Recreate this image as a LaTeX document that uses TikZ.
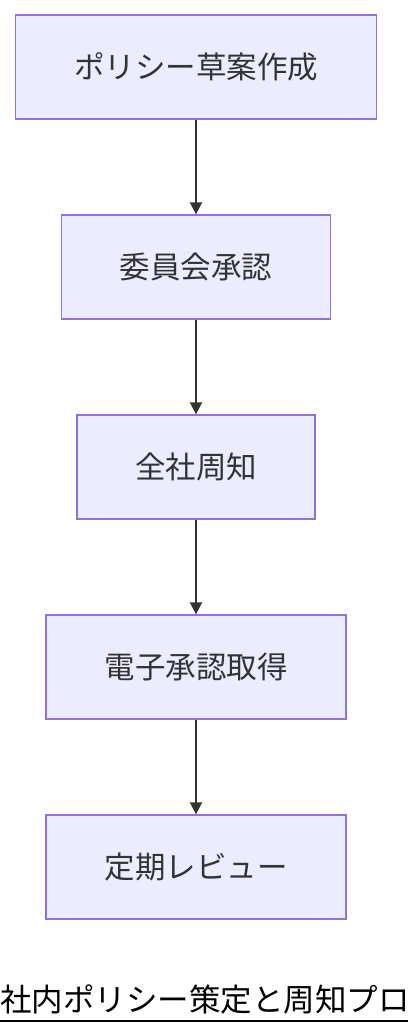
\documentclass[tikz,border=0pt]{standalone}
\usepackage{fontspec}
\setmainfont{Noto Sans CJK JP}
\usetikzlibrary{arrows.meta}
\definecolor{boxfill}{HTML}{ECECFF}
\definecolor{boxdraw}{HTML}{9370DB}
\definecolor{ink}{HTML}{333333}
\tikzset{
  stepbox/.style={draw=boxdraw, fill=boxfill, line width=1.3pt, text=ink, font=\fontsize{30.5}{34}\selectfont, inner sep=0pt, minimum height=104pt, anchor=center},
  flow/.style={draw=ink, line width=1.8pt, -{Triangle[length=12pt,width=12pt]}}
}
\begin{document}
\begin{tikzpicture}[x=1pt,y=-1pt]
\useasboundingbox (0,0) rectangle (408,1036);
\node[stepbox, minimum width=361pt] (a) at (196,67) {ポリシー草案作成};
\node[stepbox, minimum width=269pt] (b) at (196,267) {委員会承認};
\node[stepbox, minimum width=238pt] (c) at (196,467) {全社周知};
\node[stepbox, minimum width=300pt] (d) at (196,667) {電子承認取得};
\node[stepbox, minimum width=300pt] (e) at (196,867) {定期レビュー};
\draw[flow] (a) -- (b);
\draw[flow] (b) -- (c);
\draw[flow] (c) -- (d);
\draw[flow] (d) -- (e);
\node[anchor=base west, inner sep=0pt, font=\fontsize{31.5}{34}\selectfont, text=black] (t) at (0,1011) {社内ポリシー策定と周知プロ};
\draw[line width=2pt] (0,1021) -- (408,1021);
\end{tikzpicture}
\end{document}
